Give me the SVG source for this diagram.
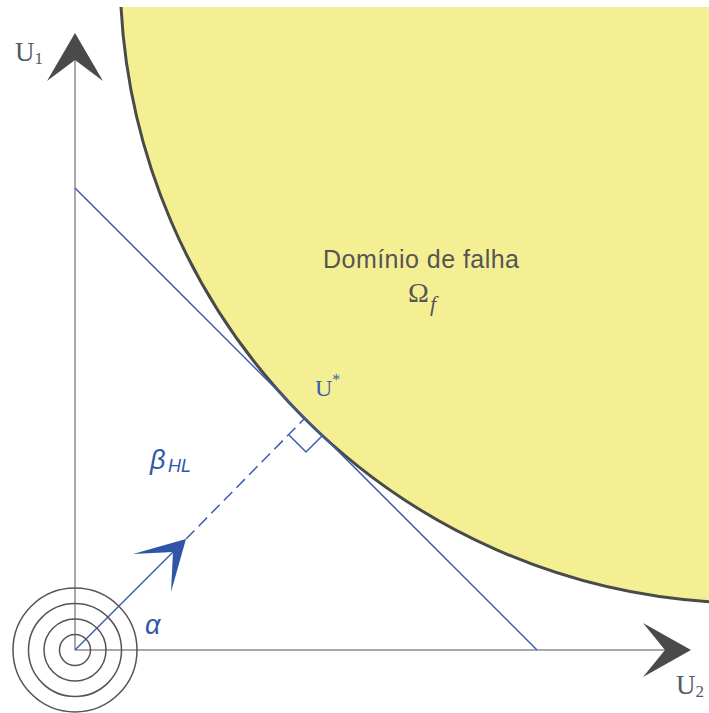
<svg xmlns="http://www.w3.org/2000/svg" width="709" height="713" viewBox="0 0 709 713">
<style>
.axis{stroke:#8c8c8c;stroke-width:1.5;fill:none}
.head{fill:#4a4a4a}
.ring{stroke:#555;stroke-width:1.5;fill:none}
.blue{stroke:#3d5cb0;stroke-width:1.5;fill:none}
.serif{font-family:"Liberation Serif","Times New Roman",serif}
.sans{font-family:"Liberation Sans",Arial,sans-serif}
</style>
<rect width="709" height="713" fill="#fff"/>
<g id="failure-domain">
<path d="M121,7 A630,630 0 0,0 709,601.7 L709,7 Z" fill="#f5ef94"/>
<path d="M121,7 A630,630 0 0,0 709,601.7" fill="none" stroke="#4a4a4a" stroke-width="3"/>
<text class="sans" x="323" y="268" font-size="25" fill="#555" textLength="196">Domínio de falha</text>
<text class="serif" x="408" y="302" font-size="28" fill="#555">Ω</text>
<text class="serif" x="430" y="311" font-size="22" font-style="italic" fill="#555">f</text>
</g>
<g id="connectors">
<line class="axis" x1="75" y1="60" x2="75" y2="650"/>
<line class="axis" x1="75" y1="650" x2="666" y2="650"/>
<polygon class="head" points="75,33 103,81 75,60 47,81"/>
<polygon class="head" points="691,650 643,677 665,650 643,623"/>
<line class="blue" x1="75" y1="188" x2="537" y2="650"/>
<line class="blue" x1="75" y1="650" x2="180" y2="545"/>
<line class="blue" x1="186" y1="539" x2="305" y2="418" stroke-dasharray="12,6"/>
<polyline class="blue" points="289,435 306,452 322,436"/>
<polygon points="186,539 133,554 173,552 171,592" fill="#2e55a8"/>
</g>
<g id="origin">
<circle class="ring" cx="75" cy="650" r="15.5"/>
<circle class="ring" cx="75" cy="650" r="31"/>
<circle class="ring" cx="75" cy="650" r="46.5"/>
<circle class="ring" cx="75" cy="650" r="62"/>
</g>
<g id="labels">
<text class="serif" x="15" y="61" font-size="27" fill="#4f5a66">U<tspan font-size="17" dy="3">1</tspan></text>
<text class="serif" x="676" y="694" font-size="27" fill="#4f5a66">U<tspan font-size="17" dy="3">2</tspan></text>
<text class="serif" x="315" y="396" font-size="24" fill="#3d5cb0">U<tspan font-size="16" dy="-11">*</tspan></text>
<text class="sans" x="150" y="469" font-size="27" font-style="italic" fill="#3455a8">β</text>
<text class="sans" x="168" y="472" font-size="18" font-style="italic" fill="#3455a8">HL</text>
<text class="sans" x="145" y="634" font-size="27" font-style="italic" fill="#3455a8">α</text>
</g>
</svg>
